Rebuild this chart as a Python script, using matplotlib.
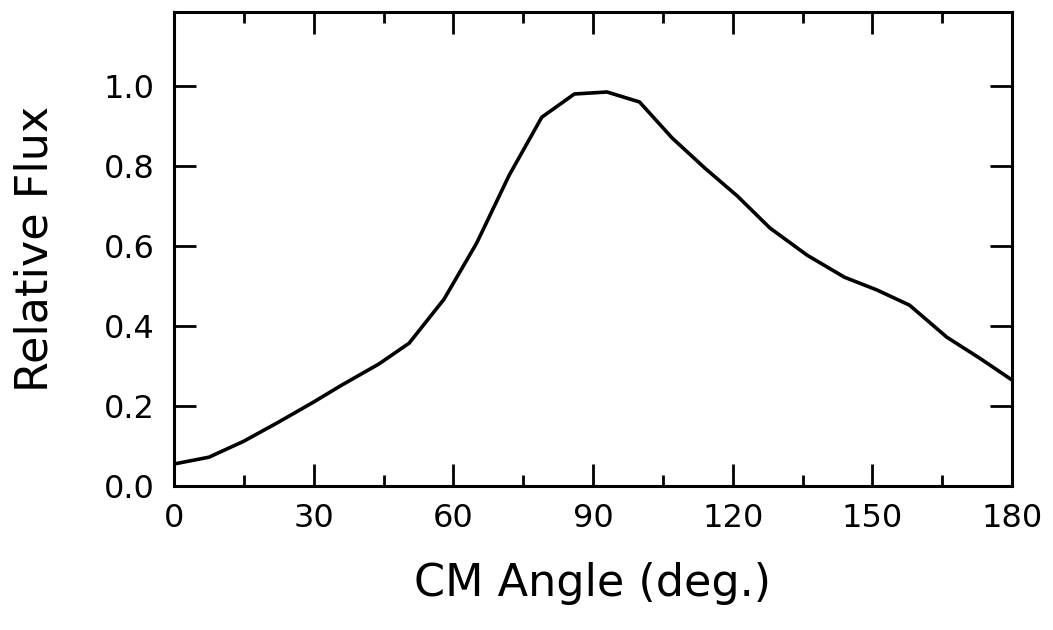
import matplotlib
matplotlib.use("Agg")
import matplotlib.pyplot as plt
from matplotlib.ticker import MultipleLocator

# CM angle (deg.) and relative flux
angle = [0, 7.5, 15, 22.5, 30, 36, 44, 50.5, 58, 65, 72, 79, 86, 93,
         100, 107, 114, 121, 128, 136, 144, 151, 158, 166, 173, 180]
flux = [0.055, 0.072, 0.112, 0.160, 0.210, 0.252, 0.305, 0.357, 0.467,
        0.607, 0.777, 0.922, 0.980, 0.985, 0.960, 0.870, 0.795, 0.725,
        0.645, 0.577, 0.522, 0.490, 0.452, 0.372, 0.320, 0.265]

x_ticks = [0, 30, 60, 90, 120, 150, 180]
y_ticks = [0.0, 0.2, 0.4, 0.6, 0.8, 1.0]

fig = plt.figure(figsize=(10.53, 6.3), dpi=100)
ax = fig.add_axes([174 / 1053, 1 - 486 / 630, 838 / 1053, 474 / 630])

ax.plot(angle, flux, color="black", linewidth=2.6)

ax.set_xlim(0, 180)
ax.set_ylim(0, 1.185)
ax.set_xticks(x_ticks)
ax.set_yticks(y_ticks)
ax.set_yticklabels([f"{v:.1f}" for v in y_ticks])
ax.xaxis.set_minor_locator(MultipleLocator(15))

for s in ax.spines.values():
    s.set_linewidth(2.2)

ax.tick_params(which="both", direction="in", top=True, right=True,
               width=2.0, labelsize=23)
ax.tick_params(which="major", length=16)
ax.tick_params(which="minor", length=8)
ax.tick_params(axis="x", which="major", pad=12)
ax.tick_params(axis="y", which="major", pad=14)
ax.tick_params(axis="y", which="minor", left=False, right=False)

ax.set_xlabel("CM Angle (deg.)", fontsize=32)
ax.xaxis.set_label_coords(0.5, -0.205)
ax.xaxis.label.set_va("center")
ax.set_ylabel("Relative Flux", fontsize=32)
ax.yaxis.set_label_coords(-0.166, 0.5)
ax.yaxis.label.set_va("center")

fig.savefig("out.png", dpi=100)
